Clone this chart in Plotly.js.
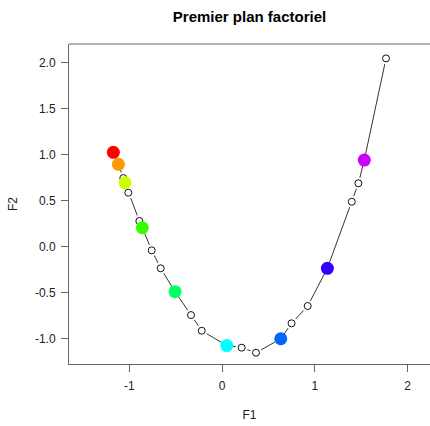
<!DOCTYPE html>
<html>
<head>
<meta charset="utf-8">
<script src="https://cdn.plot.ly/plotly-3.0.1.min.js"></script>
<style>html,body{margin:0;padding:0;background:#fff;}#chart{width:430px;height:426px;}</style>
</head>
<body>
<div id="chart"></div>
<script>
// Coordinates of individuals on the first factorial plane (F1, F2)
const f1 = [-1.171, -1.117, -1.064, -1.045, -1.010, -0.891, -0.859, -0.758, -0.661, -0.506, -0.334, -0.219, 0.051, 0.212, 0.366, 0.633, 0.749, 0.923, 1.135, 1.398, 1.469, 1.533, 1.767];
const f2 = [1.024, 0.894, 0.745, 0.694, 0.586, 0.279, 0.206, -0.039, -0.234, -0.488, -0.741, -0.911, -1.072, -1.095, -1.150, -0.998, -0.831, -0.643, -0.234, 0.488, 0.688, 0.940, 2.043];
// Highlighted individuals (indices into f1/f2) and their colours
const highlightIdx = [0, 1, 3, 6, 9, 12, 15, 18, 21];
const highlightCol = ["#FF0000", "#FF9900", "#CCFF00", "#33FF00", "#00FF66", "#00FFFF", "#0066FF", "#3300FF", "#CC00FF"];
const xTickVals = [-1, 0, 1, 2];
const xTickText = ["-1", "0", "1", "2"];
const yTickVals = [-1, -0.5, 0, 0.5, 1, 1.5, 2];
const yTickText = ["-1.0", "-0.5", "0.0", "0.5", "1.0", "1.5", "2.0"];

const hx = highlightIdx.map(i => f1[i]);
const hy = highlightIdx.map(i => f2[i]);

const traces = [
  {x: f1, y: f2, mode: "lines", line: {color: "#333", width: 1}, hoverinfo: "skip"},
  {x: f1, y: f2, mode: "markers", marker: {size: 12, color: "#fff", line: {width: 0}}, hoverinfo: "skip"},
  {x: f1, y: f2, mode: "markers", marker: {size: 7, color: "#fff", symbol: "circle", line: {color: "#111", width: 1}}},
  {x: hx, y: hy, mode: "markers", marker: {size: 13, color: highlightCol, line: {width: 0}}}
];

const axisFont = {family: "Liberation Sans, Arial, sans-serif", size: 12, color: "#222"};
const layout = {
  width: 430, height: 426,
  margin: {l: 69, r: 0, t: 44, b: 62},
  paper_bgcolor: "#fff", plot_bgcolor: "#fff",
  showlegend: false,
  title: {text: "<b>Premier plan factoriel</b>", x: 0.5, xref: "paper", y: 0.96, yanchor: "middle",
          font: {family: "Liberation Sans, Arial, sans-serif", size: 15, color: "#000"}},
  xaxis: {range: [-1.649, 2.241], tickvals: xTickVals, ticktext: xTickText, showgrid: false, zeroline: false,
          showline: true, linecolor: "#666", linewidth: 1, ticks: "outside", ticklen: 7, tickcolor: "#666",
          ticklabelstandoff: 4,
          tickfont: axisFont, title: {text: "F1", font: axisFont, standoff: 18}},
  yaxis: {range: [-1.272, 2.199], tickvals: yTickVals, ticktext: yTickText, showgrid: false, zeroline: false,
          showline: true, linecolor: "#666", linewidth: 1, ticks: "outside", ticklen: 7, tickcolor: "#666",
          ticklabelstandoff: 3,
          tickfont: axisFont, title: {text: "F2", font: axisFont, standoff: 14}},
  shapes: [{type: "line", xref: "paper", yref: "paper", x0: 0, x1: 1, y0: 1, y1: 1, line: {color: "#666", width: 1}}]
};
Plotly.newPlot("chart", traces, layout, {staticPlot: true, displayModeBar: false});
</script>
</body>
</html>
